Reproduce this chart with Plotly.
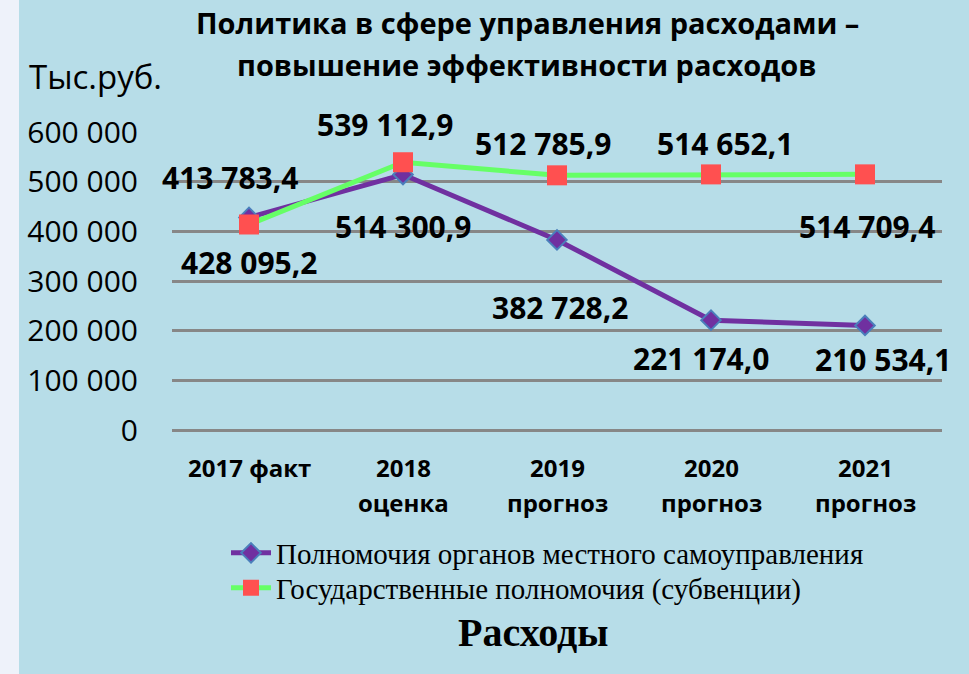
import plotly.graph_objects as go

W, H = 969, 674
L, R, T, B = 172, 27, 132, 244

categories = ["2017", "2018", "2019", "2020", "2021"]
cat_line1 = ["2017 факт", "2018", "2019", "2020", "2021"]
cat_line2 = ["", "оценка", "прогноз", "прогноз", "прогноз"]

local_name = "Полномочия органов местного самоуправления"
state_name = "Государственные полномочия (субвенции)"
local_values = [428095.2, 514300.9, 382728.2, 221174.0, 210534.1]
state_values = [413783.4, 539112.9, 512785.9, 514652.1, 514709.4]

y_tickvals = [0, 100000, 200000, 300000, 400000, 500000, 600000]
y_ticktext = ["0", "100 000", "200 000", "300 000", "400 000", "500 000", "600 000"]

# label offsets in px (dx, dy up)
local_off = [(0, -45), (0, -52), (3, -68), (-10, -38), (18, -34)]
state_off = [(-19, 47), (-18, 38), (-14, 32), (14, 31), (2, -52)]

BG = "#b7dde8"
PW = W - L - R
PH = H - T - B


def px_x(x):
    return (x - L) / PW


def px_y(y):
    return (H - B - y) / PH


def fmt(v):
    return f"{v:,.1f}".replace(",", " ").replace(".", ",")


fig = go.Figure()
fig.add_trace(go.Scatter(
    x=categories, y=local_values, name=local_name, mode="lines+markers",
    line=dict(color="#7030a0", width=5),
    marker=dict(symbol="diamond", size=15, color="#7030a0",
                line=dict(color="#4a7ebb", width=2)),
    legend="legend",
))
fig.add_trace(go.Scatter(
    x=categories, y=state_values, name=state_name, mode="lines+markers",
    line=dict(color="#66ff66", width=5),
    marker=dict(symbol="square", size=20, color="#ff5050", line=dict(width=0)),
    legend="legend2",
))

annotations = []
lab_font = dict(family="Open Sans", size=30, color="black", weight="bold")
for i, (v, (dx, dy)) in enumerate(zip(local_values, local_off)):
    annotations.append(dict(x=i, y=v, xref="x", yref="y", text=fmt(v), showarrow=False,
                            xshift=dx, yshift=dy, font=lab_font))
for i, (v, (dx, dy)) in enumerate(zip(state_values, state_off)):
    annotations.append(dict(x=i, y=v, xref="x", yref="y", text=fmt(v), showarrow=False,
                            xshift=dx, yshift=dy, font=lab_font))

cat_font = dict(family="Open Sans", size=24, color="black", weight="bold")
for i, (l1, l2) in enumerate(zip(cat_line1, cat_line2)):
    annotations.append(dict(x=i, y=px_y(467), xref="x", yref="paper", text=l1, showarrow=False,
                            yanchor="middle", font=cat_font))
    if l2:
        annotations.append(dict(x=i, y=px_y(502), xref="x", yref="paper", text=l2, showarrow=False,
                                yanchor="middle", font=cat_font))

title_font = dict(family="Open Sans", size=29, color="black", weight="bold")
annotations.append(dict(x=px_x(527), y=px_y(22), xref="paper", yref="paper",
                        text="Политика в сфере управления расходами –", showarrow=False,
                        yanchor="middle", font=title_font))
annotations.append(dict(x=px_x(527), y=px_y(64), xref="paper", yref="paper",
                        text="повышение эффективности расходов", showarrow=False,
                        yanchor="middle", font=title_font))
annotations.append(dict(x=px_x(27), y=px_y(76), xref="paper", yref="paper",
                        text="Тыс.руб.", showarrow=False, xanchor="left",
                        yanchor="middle", font=dict(family="Open Sans", size=33, color="black")))
annotations.append(dict(x=px_x(533), y=px_y(632), xref="paper", yref="paper",
                        text="Расходы", showarrow=False,
                        yanchor="middle", font=dict(family="Liberation Serif", size=40,
                                                    color="black", weight="bold")))

leg_font = dict(family="Liberation Serif", size=29, color="black")
fig.update_layout(
    width=W, height=H,
    margin=dict(l=L, r=R, t=T, b=B, pad=0),
    paper_bgcolor=BG, plot_bgcolor=BG,
    showlegend=True,
    legend=dict(x=px_x(226), y=px_y(553), xanchor="left", yanchor="middle",
                bgcolor="rgba(0,0,0,0)", font=leg_font, itemwidth=40),
    legend2=dict(x=px_x(226), y=px_y(588), xanchor="left", yanchor="middle",
                 bgcolor="rgba(0,0,0,0)", font=leg_font, itemwidth=40),
    annotations=annotations,
    shapes=[dict(type="rect", xref="paper", yref="paper", x0=px_x(0), x1=px_x(19),
                 y0=px_y(H), y1=px_y(0), fillcolor="#eef2fa", line=dict(width=0), layer="below")],
    xaxis=dict(type="category", range=[-0.5, 4.5], showgrid=False, zeroline=False,
               showticklabels=False, showline=False, fixedrange=True),
    yaxis=dict(range=[0, 600000], tickvals=y_tickvals, ticktext=y_ticktext,
               showgrid=True, gridcolor="#878787", gridwidth=2.5, zeroline=True,
               zerolinecolor="#878787", zerolinewidth=3, showline=False,
               tickfont=dict(family="Open Sans", size=30, color="black"),
               ticks="", ticklabelstandoff=33, fixedrange=True),
)

fig.write_html("out.html", config={"displayModeBar": False},
               post_script="document.body.style.margin='0';")
